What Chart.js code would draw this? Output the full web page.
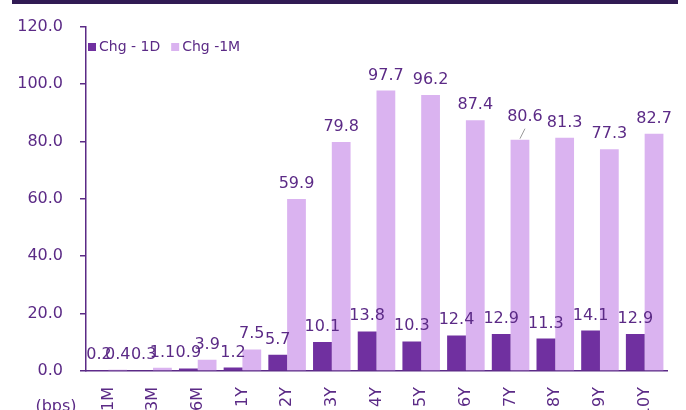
<!DOCTYPE html>
<html>
<head>
  <meta charset="utf-8">
  <script src="https://cdn.jsdelivr.net/npm/chart.js"></script>
  <style>
    body { margin: 0; background: #fff; }
    .wrap { width: 686px; height: 410px; overflow: hidden; position: relative; }
  </style>
</head>
<body>
  <div class="wrap">
    <canvas id="chart" width="686" height="440"></canvas>
  </div>
  <script>
    // tenors and changes (bps)
    var tenors = ['1M', '3M', '6M', '1Y', '2Y', '3Y', '4Y', '5Y', '6Y', '7Y', '8Y', '9Y', '10Y'];
    var chg1D = [0.2, 0.3, 0.9, 1.2, 5.7, 10.1, 13.8, 10.3, 12.4, 12.9, 11.3, 14.1, 12.9];
    var chg1M = [0.4, 1.1, 3.9, 7.5, 59.9, 79.8, 97.7, 96.2, 87.4, 80.6, 81.3, 77.3, 82.7];
    var yTicks = [0, 20, 40, 60, 80, 100, 120];

    var purple = '#5b2a86';
    var fontFam = '"DejaVu Sans", Verdana, sans-serif';

    // labels above bars + legend + header band
    var extras = {
      id: 'extras',
      afterDatasetsDraw: function(chart) {
        var ctx = chart.ctx;
        ctx.save();
        ctx.font = '16px ' + fontFam;
        ctx.fillStyle = purple;
        ctx.textAlign = 'center';
        ctx.textBaseline = 'alphabetic';
        chart.data.datasets.forEach(function(ds, di) {
          var meta = chart.getDatasetMeta(di);
          meta.data.forEach(function(bar, i) {
            var x = bar.x, y = bar.y - 11;
            // 7Y 1M label was nudged up with a leader line
            if (di === 1 && i === 9) {
              ctx.strokeStyle = '#999';
              ctx.lineWidth = 1;
              ctx.beginPath();
              ctx.moveTo(bar.x, bar.y - 1);
              ctx.lineTo(bar.x + 5, bar.y - 11);
              ctx.stroke();
              x = bar.x + 5;
              y = bar.y - 19;
            }
            ctx.fillText(ds.data[i].toFixed(1), x, y);
          });
        });

        // legend
        var area = chart.chartArea;
        ctx.font = '14px ' + fontFam;
        ctx.textAlign = 'left';
        ctx.textBaseline = 'middle';
        var lx = area.left + 2, ly = 47;
        chart.data.datasets.forEach(function(ds) {
          ctx.fillStyle = ds.backgroundColor;
          ctx.fillRect(lx, ly - 4, 8, 8);
          ctx.fillStyle = purple;
          ctx.fillText(ds.label, lx + 11, ly);
          lx += 11 + ctx.measureText(ds.label).width + 11;
        });

        // unit
        ctx.font = '16px ' + fontFam;
        ctx.textAlign = 'center';
        ctx.textBaseline = 'alphabetic';
        ctx.fillText('(bps)', 56, 411);

        // dark band at the top
        ctx.fillStyle = '#311b54';
        ctx.fillRect(12, 0, 666, 4);
        ctx.restore();
      }
    };

    new Chart(document.getElementById('chart'), {
      type: 'bar',
      data: {
        labels: tenors,
        datasets: [{
          label: 'Chg - 1D',
          data: chg1D,
          backgroundColor: '#7030a0',
          barPercentage: 1,
          categoryPercentage: 0.84
        }, {
          label: 'Chg -1M',
          data: chg1M,
          backgroundColor: '#dab3f0',
          barPercentage: 1,
          categoryPercentage: 0.84
        }]
      },
      options: {
        responsive: false,
        animation: false,
        devicePixelRatio: 1,
        layout: { padding: { top: 24, right: 19, left: 0, bottom: 0 } },
        plugins: {
          legend: { display: false },
          tooltip: { enabled: false }
        },
        scales: {
          x: {
            grid: { display: false, drawTicks: false },
            border: { display: true, color: purple, width: 1.5 },
            ticks: {
              color: purple,
              font: { family: fontFam, size: 16 },
              minRotation: 90,
              maxRotation: 90,
              autoSkip: false,
              padding: 16
            },
            afterFit: function(scale) { scale.height = 69; }
          },
          y: {
            min: 0,
            max: 120,
            afterBuildTicks: function(scale) {
              scale.ticks = yTicks.map(function(v) { return { value: v }; });
            },
            grid: { drawOnChartArea: false, drawTicks: true, tickLength: 6, color: purple, lineWidth: 1.5 },
            border: { display: true, color: purple, width: 1.5 },
            ticks: {
              color: purple,
              font: { family: fontFam, size: 16 },
              padding: 17,
              callback: function(v) { return Number(v).toFixed(1); }
            },
            afterFit: function(scale) { scale.width = 86; }
          }
        }
      },
      plugins: [extras]
    });
  </script>
</body>
</html>
